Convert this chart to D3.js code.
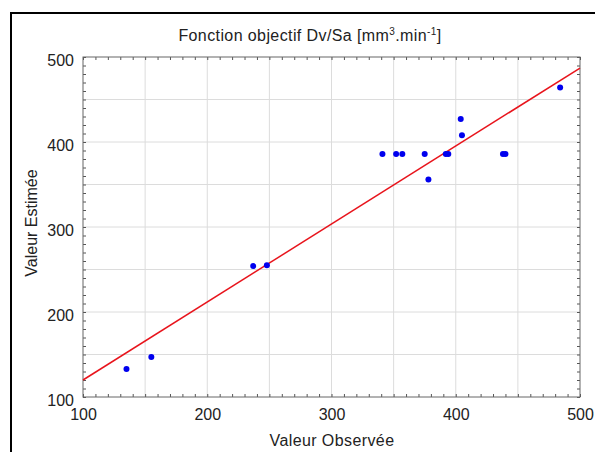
<!DOCTYPE html>
<html>
<head>
<meta charset="utf-8">
<script src="https://cdn.jsdelivr.net/npm/d3@7"></script>
<style>
  body { margin: 0; background: #fff; }
  svg { font-family: "Liberation Sans", Arial, sans-serif; }
</style>
</head>
<body>
<div id="chart"></div>
<script>
const observed = [135, 155, 237, 248, 341, 352, 357, 375, 378, 392, 394, 404, 405, 438, 440, 484];
const estimated = [133, 147, 254, 255, 386, 386, 386, 386, 356, 386, 386, 427, 408, 386, 386, 464];
// fitted line end points
const fitX = [100, 500];
const fitY = [120, 487];
const tickValues = [100, 200, 300, 400, 500];

const width = 595, height = 452;
const margin = { top: 57, right: 15, bottom: 55, left: 83 };
const innerW = 580 - margin.left;
const innerH = 397 - margin.top;

const svg = d3.select("#chart")
  .append("svg")
  .attr("width", width)
  .attr("height", height);

// outer frame
svg.append("rect")
  .attr("x", 11)
  .attr("y", 13)
  .attr("width", 600)
  .attr("height", 460)
  .style("fill", "none")
  .style("stroke", "#000")
  .style("stroke-width", 2);

const g = svg.append("g")
  .attr("transform", `translate(${margin.left},${margin.top})`);

const x = d3.scaleLinear().domain([100, 500]).range([0, innerW]);
const y = d3.scaleLinear().domain([100, 500]).range([innerH, 0]);

// grid every 50
const grid = d3.range(150, 500, 50);
g.selectAll(".vgrid")
  .data(grid)
  .enter()
  .append("line")
  .attr("x1", d => x(d)).attr("x2", d => x(d))
  .attr("y1", 0).attr("y2", innerH)
  .style("stroke", "#dcdcdc")
  .style("stroke-width", 1);

g.selectAll(".hgrid")
  .data(grid)
  .enter()
  .append("line")
  .attr("y1", d => y(d)).attr("y2", d => y(d))
  .attr("x1", 0).attr("x2", innerW)
  .style("stroke", "#dcdcdc")
  .style("stroke-width", 1);

// minor ticks on all four sides, pointing inward
const minor = d3.range(100, 501, 10);
const tickStyle = sel => {
  sel.select(".domain").remove();
  sel.selectAll("line").style("stroke", "#555");
};

g.append("g")
  .attr("transform", `translate(0,${innerH})`)
  .call(d3.axisTop(x).tickValues(minor).tickSize(3).tickFormat(""))
  .call(tickStyle);
g.append("g")
  .call(d3.axisBottom(x).tickValues(minor).tickSize(3).tickFormat(""))
  .call(tickStyle);
g.append("g")
  .call(d3.axisRight(y).tickValues(minor).tickSize(3).tickFormat(""))
  .call(tickStyle);
g.append("g")
  .attr("transform", `translate(${innerW},0)`)
  .call(d3.axisLeft(y).tickValues(minor).tickSize(3).tickFormat(""))
  .call(tickStyle);

// plot border
g.append("rect")
  .attr("width", innerW)
  .attr("height", innerH)
  .style("fill", "none")
  .style("stroke", "#666")
  .style("stroke-width", 1);

// tick labels
g.append("g")
  .attr("transform", `translate(0,${innerH})`)
  .call(d3.axisBottom(x).tickValues(tickValues).tickSize(0).tickPadding(12))
  .call(a => a.select(".domain").remove())
  .selectAll("text")
  .style("font-size", "16px")
  .style("font-family", "Liberation Sans, Arial, sans-serif")
  .style("fill", "#222");

g.append("g")
  .call(d3.axisLeft(y).tickValues(tickValues).tickSize(0).tickPadding(9))
  .call(a => a.select(".domain").remove())
  .selectAll("text")
  .attr("dy", "0.55em")
  .style("font-size", "16px")
  .style("font-family", "Liberation Sans, Arial, sans-serif")
  .style("fill", "#222");

// fitted line
const fit = fitX.map((d, i) => [d, fitY[i]]);
g.append("path")
  .datum(fit)
  .attr("d", d3.line().x(d => x(d[0])).y(d => y(d[1])))
  .style("fill", "none")
  .style("stroke", "#e8141c")
  .style("stroke-width", 1.5);

// points
g.selectAll(".pt")
  .data(observed)
  .enter()
  .append("circle")
  .attr("cx", d => x(d))
  .attr("cy", (d, i) => y(estimated[i]))
  .attr("r", 3)
  .style("fill", "#0000ee");

// title
const title = svg.append("text")
  .attr("x", 310)
  .attr("y", 41)
  .attr("text-anchor", "middle")
  .style("font-size", "16px")
  .style("letter-spacing", "0.4px")
  .style("fill", "#222");
title.append("tspan").text("Fonction objectif Dv/Sa [mm");
title.append("tspan").attr("dy", -6).style("font-size", "10px").text("3");
title.append("tspan").attr("dy", 6).text(".min");
title.append("tspan").attr("dy", -6).style("font-size", "10px").text("-1");
title.append("tspan").attr("dy", 6).text("]");

// axis titles
svg.append("text")
  .attr("x", 332)
  .attr("y", 446)
  .attr("text-anchor", "middle")
  .style("font-size", "16px")
  .style("letter-spacing", "0.4px")
  .style("fill", "#222")
  .text("Valeur Observée");

svg.append("text")
  .attr("transform", "translate(37,223) rotate(-90)")
  .attr("text-anchor", "middle")
  .style("font-size", "16px")
  .style("fill", "#222")
  .text("Valeur Estimée");
</script>
</body>
</html>
